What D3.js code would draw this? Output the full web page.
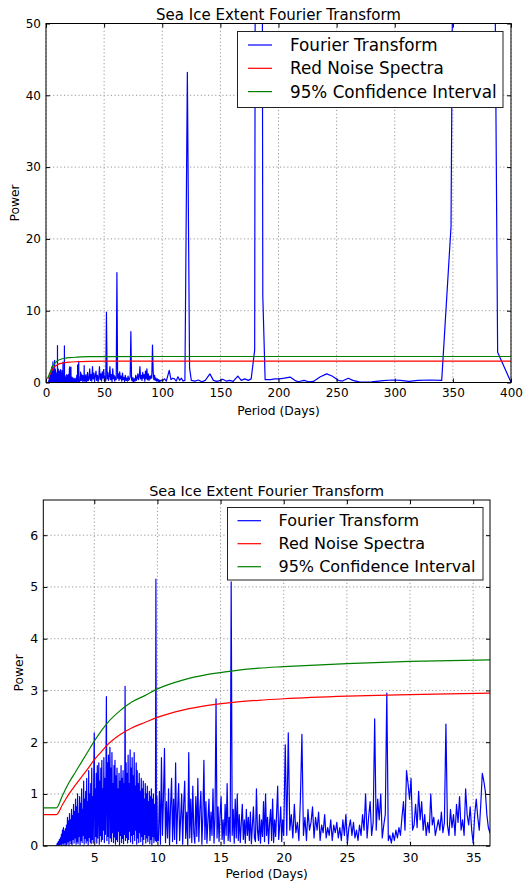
<!doctype html>
<html>
<head>
    <meta charset="utf-8"/>
    <style>
        body { margin: 0; background: #fff; }
        svg { display: block; font-family: "DejaVu Sans", sans-serif; }
        .grid line { stroke: #999; stroke-dasharray: 1.2,2.4; }
        .axis text { fill: #000; }
        .axis line { stroke: #000; }
    </style>
    <script src="https://d3js.org/d3.v7.min.js"></script>
</head>
<body>

<svg width="525" height="884"></svg>

<script>

    // Fourier power in segments of evenly spaced periods
    var denseStart = 2.0, denseStep = 0.04;
    var denseValues = [
        0, 0.02, 0.05, 0.01, 0.08, 0.02, 0.12, 0.01, 0.15, 0.03,
        0.22, 0.02, 0.3, 0.05, 0.35, 0.01, 0.28, 0.06, 0.33, 0.0,
        0.4, 0.03, 0.55, 0.08, 0.48, 0.01, 0.62, 0.1, 0.5, 0.04,
        0.7, 0.02, 0.58, 0.12, 0.8, 0.05, 0.66, 0.15, 0.9, 0.03,
        0.75, 0.08, 1.0, 0.04, 0.62, 0.18, 0.95, 0.02, 0.82, 0.1,
        1.1, 0.06, 0.7, 0.2, 1.25, 0.03, 0.9, 0.14, 1.05, 0.05,
        1.3, 0.1, 0.85, 0.02, 1.45, 0.16, 1.0, 0.07, 1.2, 0.04,
        1.5, 0.12, 0.95, 0.05, 1.35, 2.18, 0.08, 1.1, 0.18, 1.4,
        0.05, 1.55, 0.15, 0.9, 1.6, 0.03, 1.25, 0.2, 1.5, 0.08,
        1.65, 0.12, 1.1, 0.3, 1.7, 0.06, 1.3, 0.22, 1.2, 2.88,
        0.1, 1.6, 0.18, 1.75, 0.04, 1.3, 1.9, 0.15, 1.5, 0.08,
        1.8, 0.25, 1.2, 0.06, 1.55, 0.17, 1.65, 0.03, 1.35, 0.12,
        1.5, 0.08, 1.1, 0.28, 1.4, 0.02, 1.25, 0.2, 1.55, 0.06,
        1.3, 0.14, 1.45, 0.04, 1.2, 0.22, 3.08, 0.1, 1.6, 0.16,
        1.4, 0.05, 1.75, 0.12, 1.2, 0.28, 1.85, 0.07, 1.5, 0.2,
        1.7, 0.04, 1.35, 0.22, 1.8, 0.1, 1.15, 0.3, 1.6, 0.03,
        1.45, 0.15, 1.2, 0.06, 1.4, 0.25, 1.05, 0.08, 1.3, 0.18,
        1.1, 0.02, 1.25, 0.12, 0.9, 0.22, 1.2, 0.05, 1.0, 0.15,
        1.15, 0.08, 0.85, 0.2, 1.05, 0.04, 0.95, 0.12, 1.1, 0.02,
        0.9, 0.18, 1.0, 0.06, 0.8, 0.25, 0.1, 5.15, 0.08, 0.95,
        0.1
    ];

    var midStart = 10.08, midStep = 0.08;
    var midValues = [
        0.1, 1.05, 0.03, 1.7, 0.2, 0.95, 1.88, 0.06, 0.85, 0.15,
        1.1, 0.02, 0.75, 1.3, 0.08, 0.9, 0.12, 1.6, 0.04, 0.7,
        1.2, 0.1, 0.55, 1.0, 0.03, 0.8, 1.25, 0.14, 0.65, 0.02,
        1.8, 0.15, 0.9, 0.06, 1.15, 0.25, 0.05, 0.95, 0.18, 1.3,
        0.08, 0.7, 1.05, 0.03, 0.6, 1.65, 0.12, 0.85, 0.05, 0.5,
        0.9, 0.1, 0.65, 0.2, 1.1, 0.05, 0.55, 2.84, 0.15, 0.75,
        0.08, 0.6, 0.95, 0.12, 0.5, 0.04, 0.8, 0.2, 1.2, 0.1,
        0.55, 0.08, 5.1, 0.2, 0.7, 0.05, 0.9, 0.15, 1.0, 0.1,
        0.6, 0.06, 0.45, 0.8, 0.12, 0.5, 0.05, 0.7, 0.2, 0.55,
        0.1, 0.65, 0.04, 0.4, 0.75, 0.15, 0.08, 1.1, 0.3, 0.1,
        0.6, 0.05, 0.5, 0.18, 0.85, 0.08, 1.0, 0.2, 0.55, 0.04,
        0.45, 0.7, 0.1, 0.9, 0.06, 0.5, 0.18, 0.65, 1.15, 0.12,
        0.4, 0.75, 0.08, 0.5, 0.2
    ];

    var sparseStart = 20.12, sparseStep = 0.12;
    var sparseValues = [
        1.95, 0.2, 2.18, 0.3, 0.6, 0.15, 0.8, 0.25, 0.45, 0.1,
        0.9, 2.15, 0.2, 0.55, 0.1, 0.7, 0.3, 0.45, 0.75, 0.15,
        0.55, 0.3, 0.65, 0.1, 0.4, 0.25, 0.6, 0.15, 0.35, 0.2,
        0.5, 0.1, 0.4, 0.25, 0.45, 0.15, 0.35, 0.1, 0.5, 0.2,
        0.6, 0.05, 0.35, 0.5, 0.2, 0.45, 0.15, 0.3, 0.1, 0.4,
        0.2, 0.6, 0.3, 1.0, 0.15, 0.55, 0.85, 0.2, 0.45, 2.45,
        0.3, 0.9, 0.5, 1.0, 0.15, 0.4, 0.6, 2.95, 0.1, 0.2,
        0.05, 0.25, 0.1, 0.3, 0.15, 0.35, 0.2, 0.55, 0.85, 0.3,
        1.45, 1.2, 0.9, 1.3, 0.3, 0.4, 0.8, 0.35, 1.05, 0.5,
        0.85, 0.3, 0.6, 0.2, 0.45, 0.25, 1.0, 0.4, 0.55, 0.2,
        0.35, 0.5, 0.3, 0.65, 0.25, 0.45, 2.35, 0.4, 0.2, 0.7,
        0.35, 0.6, 0.2, 0.8, 0.45, 0.95, 0.3, 0.5, 0.2, 1.1,
        0.6, 0.4, 0.75, 0.3, 0.05, 0.6, 0.9, 0.55, 0.3, 0.8,
        1.4, 1.25, 1.05, 0.6, 0.35, 0.25, 0.5, 0.3
    ];

    var longStart = 37.0, longStep = 0.6;
    var longValues = [
        0.6, 1.9, 0.3, 1.1, 0.2, 2.2, 0.5, 1.3, 0.15, 0.9,
        1.6, 0.3, 1.0, 0.1, 0.7, 2.2, 0.4, 1.2, 0.2, 1.5,
        0.6, 1.8, 0.3, 0.9, 0.2, 9.8, 0.5, 1.4, 0.3, 0.8,
        2.2, 0.4, 1.1, 0.15, 1.9, 0.5, 1.0, 0.2, 0.8, 0.4,
        15.3, 0.6, 1.2, 0.3, 1.5, 0.5, 0.9, 0.2, 1.3, 0.4,
        0.7, 0.15, 1.0, 0.3, 0.6, 0.2, 0.9, 0.3, 0.5, 0.8,
        7.1, 0.4, 0.2, 0.7, 0.1, 0.5, 0.2, 1.0, 0.3, 0.6,
        1.2, 0.4, 0.8, 2.2, 0.5, 1.0, 0.3, 1.4, 0.6, 1.1,
        0.2, 1.6, 0.5, 1.9, 0.4, 1.2, 0.3, 0.9, 0.5, 1.0,
        0.6, 5.2, 1.5, 0.4, 1.0, 0.3, 0.6, 0.2, 0.5, 0.15,
        0.4, 0.1, 0.3, 0.2, 0.35
    ];

    // long periods: [period, power]
    var tailPoints = [
        [100.5, 0.3], [102, 0.5], [103.5, 0.2], [106, 1.7], [107.5, 0.4], [109, 0.6],
        [110.5, 0.5], [112, 0.2], [113.5, 0.8], [115, 0.3], [116.5, 0.6], [118, 0.2],
        [119.5, 0.3], [121.6, 43.2], [123.5, 2.0], [125, 0.3], [128, 0.2], [131, 0.35],
        [134, 0.1], [137, 0.3], [141, 1.2], [144, 0.3], [147, 0.15], [150, 0.3],
        [152, 0.45], [155, 0.2], [158, 0.3], [161, 0.15], [165, 0.9], [168, 0.3],
        [171, 0.5], [174, 0.3], [176.5, 0.5], [179.5, 4.5], [183, 400], [186.5, 12],
        [188.5, 0.4], [193, 0.4], [197, 0.5], [201, 0.5], [205, 0.6], [210, 0.75],
        [214, 0.3], [217, 0.1], [222, 0.3], [226, 0.1], [230, 0.15], [236, 0.8],
        [241.5, 1.2], [246, 0.9], [251.5, 0.3], [255, 0.2], [260, 0.6], [264, 0.3],
        [270, 0.05], [280, 0.1], [290, 0.25], [298, 0.35], [305, 0.3], [312, 0.15],
        [320, 0.3], [330, 0.35], [340.4, 0.3], [348.4, 21.7], [367, 500], [388.5, 4.2],
        [400, 0.05]
    ];

    var redNoise = [
        [1, 0.6], [2, 0.6], [2.5, 0.8], [3, 1.0], [3.5, 1.17], [4, 1.33], [4.5, 1.49],
        [5, 1.66], [5.5, 1.8], [6, 1.94], [7, 2.14], [8, 2.28], [9, 2.38], [10, 2.48],
        [12, 2.62], [14, 2.71], [16, 2.77], [18, 2.81], [20, 2.84], [25, 2.89], [30, 2.92],
        [36.5, 2.95], [50, 2.97], [100, 2.97], [400, 2.97]
    ];

    var confidence95 = [
        [1, 0.73], [2, 0.73], [2.5, 0.98], [3, 1.22], [3.5, 1.42], [4, 1.62], [4.5, 1.82],
        [5, 2.02], [5.5, 2.2], [6, 2.36], [7, 2.6], [8, 2.78], [9, 2.9], [10, 3.03],
        [12, 3.2], [14, 3.31], [16, 3.38], [18, 3.43], [20, 3.46], [25, 3.52], [30, 3.56],
        [36.5, 3.59], [50, 3.61], [100, 3.62], [400, 3.62]
    ];

    var topXTicks = [0, 50, 100, 150, 200, 250, 300, 350, 400];
    var topYTicks = [0, 10, 20, 30, 40, 50];
    var bottomXTicks = [5, 10, 15, 20, 25, 30, 35];
    var bottomYTicks = [0, 1, 2, 3, 4, 5, 6];

    var legendLabels = ["Fourier Transform", "Red Noise Spectra", "95% Confidence Interval"];
    var legendColors = ["#0000ff", "#ff0000", "#008000"];

    var title = "Sea Ice Extent Fourier Transform";

    // stitch the segments together
    var fourier = [];
    [[denseStart, denseStep, denseValues], [midStart, midStep, midValues],
     [sparseStart, sparseStep, sparseValues], [longStart, longStep, longValues]]
        .forEach(function(seg) {
            seg[2].forEach(function(v, i) { fourier.push([seg[0] + i * seg[1], v]); });
        });
    tailPoints.forEach(function(d) { fourier.push(d); });

    var svg = d3.select("svg");

    function drawPanel(p) {
        var g = svg.append("g");
        var x = d3.scaleLinear().domain(p.xDomain).range([p.left, p.right]);
        var y = d3.scaleLinear().domain(p.yDomain).range([p.bottom, p.top]);

        g.append("clipPath").attr("id", "clip-" + p.name)
            .append("rect")
            .attr("x", p.left).attr("y", p.top)
            .attr("width", p.right - p.left).attr("height", p.bottom - p.top);

        var grid = g.append("g").attr("class", "grid");
        grid.selectAll(".gx").data(p.xTicks).join("line").attr("class", "gx")
            .attr("x1", d => x(d)).attr("x2", d => x(d))
            .attr("y1", p.top).attr("y2", p.bottom);
        grid.selectAll(".gy").data(p.yTicks).join("line").attr("class", "gy")
            .attr("x1", p.left).attr("x2", p.right)
            .attr("y1", d => y(d)).attr("y2", d => y(d));

        var plot = g.append("g").attr("clip-path", "url(#clip-" + p.name + ")");
        var line = d3.line().x(d => x(d[0])).y(d => y(d[1]));
        var smooth = d3.line().x(d => x(d[0])).y(d => y(d[1])).curve(d3.curveMonotoneX);

        plot.append("path").datum(fourier)
            .attr("fill", "none").attr("stroke", legendColors[0]).attr("stroke-width", 1.2)
            .attr("stroke-linejoin", "round")
            .attr("d", line);
        plot.append("path").datum(redNoise)
            .attr("fill", "none").attr("stroke", legendColors[1]).attr("stroke-width", 1.2)
            .attr("d", smooth);
        plot.append("path").datum(confidence95)
            .attr("fill", "none").attr("stroke", legendColors[2]).attr("stroke-width", 1.2)
            .attr("d", smooth);

        // axes, ticks inward on all four sides
        var fmt = d3.format("d");
        g.append("g").attr("class", "axis")
            .attr("transform", "translate(0," + p.bottom + ")")
            .call(d3.axisBottom(x).tickValues(p.xTicks).tickFormat(fmt)
                .tickSizeInner(-4).tickSizeOuter(0).tickPadding(p.xPad))
            .call(a => a.select(".domain").remove())
            .selectAll("text").attr("font-size", p.tickFont).attr("font-family", "DejaVu Sans");
        g.append("g").attr("class", "axis")
            .attr("transform", "translate(0," + p.top + ")")
            .call(d3.axisTop(x).tickValues(p.xTicks).tickFormat("")
                .tickSizeInner(-4).tickSizeOuter(0))
            .call(a => a.select(".domain").remove());
        g.append("g").attr("class", "axis")
            .attr("transform", "translate(" + p.left + ",0)")
            .call(d3.axisLeft(y).tickValues(p.yTicks).tickFormat(fmt)
                .tickSizeInner(-4).tickSizeOuter(0).tickPadding(5))
            .call(a => a.select(".domain").remove())
            .selectAll("text").attr("font-size", p.tickFont).attr("font-family", "DejaVu Sans");
        g.append("g").attr("class", "axis")
            .attr("transform", "translate(" + p.right + ",0)")
            .call(d3.axisRight(y).tickValues(p.yTicks).tickFormat("")
                .tickSizeInner(-4).tickSizeOuter(0))
            .call(a => a.select(".domain").remove());

        g.append("rect")
            .attr("x", p.left).attr("y", p.top)
            .attr("width", p.right - p.left).attr("height", p.bottom - p.top)
            .attr("fill", "none").attr("stroke", "#000").attr("stroke-width", 1);

        g.append("text")
            .attr("x", (p.left + p.right) / 2).attr("y", p.titleY)
            .attr("text-anchor", "middle").attr("font-size", p.titleFont)
            .text(title);

        g.append("text")
            .attr("x", (p.left + p.right) / 2).attr("y", p.xLabelY)
            .attr("text-anchor", "middle").attr("font-size", 12.3)
            .text("Period (Days)");

        g.append("text")
            .attr("transform", "translate(" + p.yLabelX + "," + ((p.top + p.bottom) / 2) + ") rotate(-90)")
            .attr("text-anchor", "middle").attr("font-size", 12.3)
            .text("Power");

        // legend
        var L = p.legend;
        var lg = g.append("g");
        lg.append("rect")
            .attr("x", L.x0).attr("y", L.y0)
            .attr("width", L.x1 - L.x0).attr("height", L.y1 - L.y0)
            .attr("fill", "#fff").attr("stroke", "#222").attr("stroke-width", 1);
        var rows = lg.selectAll(".row").data(legendLabels).join("g").attr("class", "row")
            .attr("transform", (d, i) => "translate(0," + (L.firstRow + i * L.rowGap) + ")");
        rows.append("line")
            .attr("x1", L.lineX0).attr("x2", L.lineX1)
            .attr("stroke", (d, i) => legendColors[i]).attr("stroke-width", 1.2);
        rows.append("text")
            .attr("x", L.textX).attr("dy", "0.36em")
            .attr("font-size", L.font)
            .text(d => d);
    }

    drawPanel({
        name: "top",
        left: 46, right: 511, top: 23.5, bottom: 382.5,
        xDomain: [0, 400], yDomain: [0, 50],
        xTicks: topXTicks, yTicks: topYTicks,
        tickFont: 12, xPad: 6, titleFont: 15, titleY: 19.5,
        xLabelY: 415, yLabelX: 19,
        legend: { x0: 237.5, y0: 31.5, x1: 503, y1: 107.5, firstRow: 45, rowGap: 23.3,
                  lineX0: 248, lineX1: 272, textX: 290, font: 16.8 }
    });

    drawPanel({
        name: "bottom",
        left: 43.3, right: 490, top: 500, bottom: 845.7,
        xDomain: [0.965, 36.33], yDomain: [0, 6.68],
        xTicks: bottomXTicks, yTicks: bottomYTicks,
        tickFont: 12.5, xPad: 7, titleFont: 14.4, titleY: 495.5,
        xLabelY: 878, yLabelX: 23,
        legend: { x0: 227.5, y0: 507.5, x1: 483, y1: 580, firstRow: 520.7, rowGap: 23,
                  lineX0: 237.5, lineX1: 261, textX: 278.5, font: 16 }
    });

</script>

</body>
</html>
